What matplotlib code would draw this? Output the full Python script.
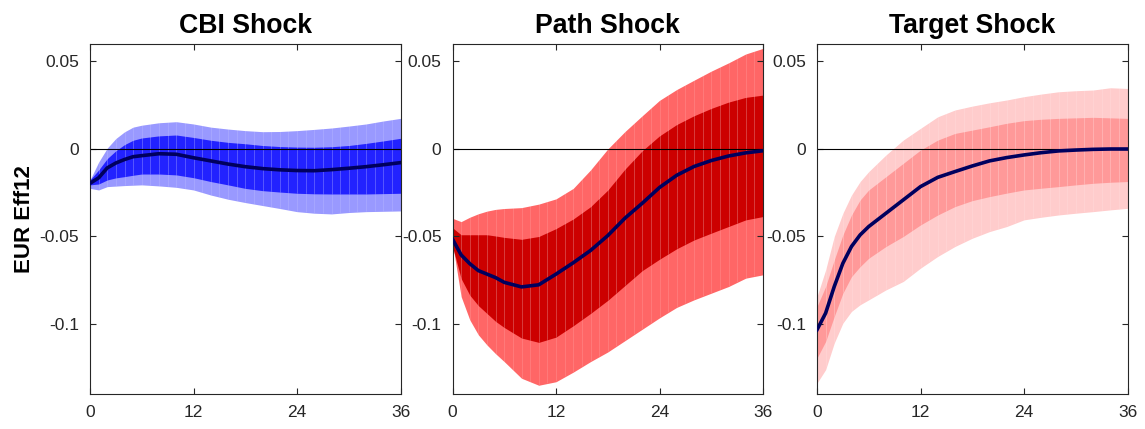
import matplotlib

matplotlib.use("Agg")
import matplotlib.pyplot as plt
import numpy as np

plt.rcParams["font.family"] = ["Liberation Sans", "DejaVu Sans"]

# ── Impulse responses of EUR Eff12 (median, 68% and 90% bands) ──
months = [0, 1, 2, 3, 4, 5, 6, 8, 10, 12, 14, 16, 18, 20, 22, 24, 26, 28, 30, 32, 34, 36]

cbi_median = [-0.0196, -0.0165, -0.0108, -0.0080, -0.0060, -0.0044, -0.0038, -0.0027, -0.0030, -0.0050,
              -0.0068, -0.0086, -0.0101, -0.0112, -0.0119, -0.0123, -0.0124, -0.0118, -0.0110, -0.0101,
              -0.0090, -0.0078]
cbi_inner_hi = [-0.0177, -0.0120, -0.0055, -0.0010, 0.0025, 0.0050, 0.0063, 0.0075, 0.0080, 0.0066,
                0.0050, 0.0038, 0.0030, 0.0020, 0.0014, 0.0011, 0.0010, 0.0013, 0.0020, 0.0032,
                0.0046, 0.0061]
cbi_inner_lo = [-0.0205, -0.0200, -0.0177, -0.0165, -0.0158, -0.0150, -0.0143, -0.0143, -0.0148, -0.0164,
                -0.0186, -0.0205, -0.0225, -0.0238, -0.0246, -0.0253, -0.0256, -0.0257, -0.0257, -0.0257,
                -0.0255, -0.0253]
cbi_outer_hi = [-0.0177, -0.0075, 0.0005, 0.0060, 0.0098, 0.0125, 0.0136, 0.0150, 0.0156, 0.0143,
                0.0125, 0.0114, 0.0105, 0.0099, 0.0100, 0.0105, 0.0112, 0.0120, 0.0131, 0.0143,
                0.0160, 0.0175]
cbi_outer_lo = [-0.0225, -0.0234, -0.0215, -0.0212, -0.0209, -0.0207, -0.0205, -0.0211, -0.0219, -0.0234,
                -0.0263, -0.0287, -0.0306, -0.0323, -0.0340, -0.0358, -0.0367, -0.0371, -0.0363, -0.0358,
                -0.0356, -0.0354]

path_median = [-0.0515, -0.0605, -0.0655, -0.0695, -0.0715, -0.0735, -0.0762, -0.0788, -0.0776, -0.0715,
               -0.0650, -0.0580, -0.0495, -0.0395, -0.0310, -0.0220, -0.0150, -0.0100, -0.0066, -0.0040,
               -0.0022, -0.0010]
path_inner_hi = [-0.0450, -0.0490, -0.0490, -0.0490, -0.0490, -0.0497, -0.0505, -0.0516, -0.0500, -0.0455,
                 -0.0400, -0.0330, -0.0235, -0.0115, -0.0010, 0.0075, 0.0140, 0.0190, 0.0232, 0.0268,
                 0.0295, 0.0308]
path_inner_lo = [-0.0557, -0.0740, -0.0835, -0.0895, -0.0940, -0.0985, -0.1020, -0.1080, -0.1105, -0.1075,
                 -0.1010, -0.0940, -0.0865, -0.0780, -0.0695, -0.0630, -0.0570, -0.0520, -0.0481, -0.0443,
                 -0.0405, -0.0386]
path_outer_hi = [-0.0396, -0.0415, -0.0390, -0.0370, -0.0355, -0.0345, -0.0340, -0.0335, -0.0315, -0.0285,
                 -0.0225, -0.0120, 0.0000, 0.0100, 0.0190, 0.0278, 0.0340, 0.0393, 0.0445, 0.0492,
                 0.0543, 0.0575]
path_outer_lo = [-0.0538, -0.0843, -0.0976, -0.1062, -0.1120, -0.1170, -0.1215, -0.1310, -0.1350, -0.1330,
                 -0.1275, -0.1215, -0.1160, -0.1095, -0.1030, -0.0965, -0.0905, -0.0862, -0.0824, -0.0786,
                 -0.0738, -0.0719]

target_median = [-0.1033, -0.0938, -0.0786, -0.0653, -0.0557, -0.0491, -0.0443, -0.0367, -0.0291, -0.0215,
                 -0.0162, -0.0129, -0.0097, -0.0068, -0.0049, -0.0034, -0.0021, -0.0011, -0.0006, -0.0002,
                 0.0000, 0.0000]
target_inner_hi = [-0.0900, -0.0786, -0.0634, -0.0491, -0.0377, -0.0291, -0.0234, -0.0158, -0.0082, -0.0006,
                   0.0051, 0.0089, 0.0108, 0.0127, 0.0147, 0.0162, 0.0170, 0.0175, 0.0178, 0.0181,
                   0.0178, 0.0175]
target_inner_lo = [-0.1195, -0.1100, -0.0957, -0.0824, -0.0729, -0.0672, -0.0624, -0.0557, -0.0500, -0.0434,
                   -0.0377, -0.0329, -0.0295, -0.0272, -0.0252, -0.0234, -0.0224, -0.0215, -0.0205, -0.0196,
                   -0.0190, -0.0186]
target_outer_hi = [-0.0843, -0.0691, -0.0500, -0.0367, -0.0263, -0.0186, -0.0129, -0.0034, 0.0051, 0.0118,
                   0.0184, 0.0223, 0.0245, 0.0264, 0.0280, 0.0299, 0.0314, 0.0327, 0.0333, 0.0337,
                   0.0350, 0.0346]
target_outer_lo = [-0.1338, -0.1261, -0.1109, -0.0995, -0.0928, -0.0890, -0.0862, -0.0805, -0.0757, -0.0681,
                   -0.0614, -0.0557, -0.0510, -0.0472, -0.0443, -0.0405, -0.0390, -0.0377, -0.0367, -0.0358,
                   -0.0348, -0.0339]

titles = ["CBI Shock", "Path Shock", "Target Shock"]
xticks = [0, 12, 24, 36]
yticks = [-0.1, -0.05, 0, 0.05]
ytick_labels = ["-0.1", "-0.05", "0", "0.05"]

panels = [
    (cbi_median, cbi_inner_lo, cbi_inner_hi, cbi_outer_lo, cbi_outer_hi, "#9999ff", "#2222ff"),
    (path_median, path_inner_lo, path_inner_hi, path_outer_lo, path_outer_hi, "#ff6666", "#cc0000"),
    (target_median, target_inner_lo, target_inner_hi, target_outer_lo, target_outer_hi, "#ffcccc", "#ff9999"),
]

W, H = 1145, 429
fig = plt.figure(figsize=(W / 100, H / 100), dpi=100)
lefts = [90, 452.5, 817]
ax_w, ax_b, ax_top = 310.5, 394, 44

x = np.array(months, dtype=float)
for i, (med, ilo, ihi, olo, ohi, c_out, c_in) in enumerate(panels):
    ax = fig.add_axes([lefts[i] / W, 1 - ax_b / H, ax_w / W, (ax_b - ax_top) / H])

    for lo, hi, col in [(olo, ohi, c_out), (ilo, ihi, c_in)]:
        band = ax.fill_between(x, lo, hi, color=col, linewidth=0, zorder=1)
        # faint patch seams, one per month
        seams = ax.vlines(np.arange(37), -0.2, 0.1, colors="white", linewidth=0.6,
                          alpha=0.15, zorder=1.5)
        seams.set_clip_path(band.get_paths()[0], ax.transData)

    ax.axhline(0, color="black", linewidth=0.8, zorder=2)
    ax.plot(x, med, color="#00005e", linewidth=2.6, zorder=3)

    ax.set_xlim(0, 36)
    ax.set_ylim(-0.14, 0.06)
    ax.set_xticks(xticks)
    ax.set_yticks(yticks)
    ax.set_yticklabels(ytick_labels)
    ax.tick_params(direction="in", length=4, width=0.8, top=True, right=True,
                   labelsize=12.5, colors="#262626", pad=8)
    for sp in ax.spines.values():
        sp.set_color("#262626")
        sp.set_linewidth(0.8)
    ax.set_title(titles[i], fontsize=19.2, fontweight="bold", pad=8)
    if i == 0:
        ax.set_ylabel("EUR Eff12", fontsize=16, fontweight="bold", labelpad=3)

fig.savefig("out.png", dpi=100)
